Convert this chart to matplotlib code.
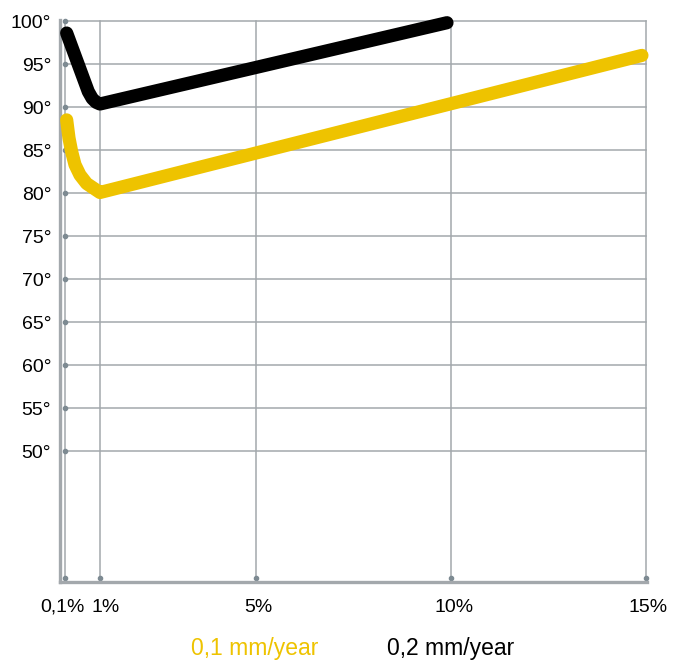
import matplotlib
matplotlib.use("Agg")
import matplotlib.pyplot as plt
from matplotlib.transforms import ScaledTranslation

plt.rcParams['font.family'] = ['Liberation Sans', 'DejaVu Sans']

# ---- data ----
x_ticks = [0.1, 1, 5, 10, 15]
x_labels = ["0,1%", "1%", "5%", "10%", "15%"]
y_ticks = [50, 55, 60, 65, 70, 75, 80, 85, 90, 95, 100]
y_labels = ["50°", "55°", "60°", "65°", "70°", "75°", "80°", "85°", "90°", "95°", "100°"]

series_01_x = [0.146, 0.205, 0.274, 0.359, 0.487, 0.659, 0.872, 1.0, 14.9]
series_01_y = [88.5, 86.4, 84.8, 83.3, 82.1, 81.1, 80.45, 80.06, 96.0]
series_02_x = [0.146, 0.70, 0.80, 0.90, 1.0, 9.9]
series_02_y = [98.6, 91.8, 91.0, 90.55, 90.35, 99.8]
legend_labels = ["0,1 mm/year", "0,2 mm/year"]

YELLOW = "#EEC300"
BLACK = "#000000"
GRID = "#A3A8AC"
DOT = "#7D8A92"

fig = plt.figure(figsize=(6.87, 6.64), dpi=100)
W, H = 687, 664
ax = fig.add_axes([59.5 / W, (H - 582) / H, (647 - 59.5) / W, (582 - 21) / H])
ax.set_xlim(-0.038, 15.03)
ax.set_ylim(34.77, 100)

for s in ["top", "right"]:
    ax.spines[s].set_visible(False)
for s in ["left", "bottom"]:
    ax.spines[s].set_color(GRID)
    ax.spines[s].set_linewidth(2.4)
ax.spines["left"].set_bounds(34.77, 100.1)

ybot = 35.23
# grid lines
for yv in y_ticks:
    ax.plot([0.1, 15], [yv, yv], color=GRID, lw=1.1, zorder=1, clip_on=False)
for xv in x_ticks:
    ax.plot([xv, xv], [34.77, 100], color=GRID, lw=1.1, zorder=1, clip_on=False)
# dots
ax.scatter([0.1] * len(y_ticks), y_ticks, s=9, color=DOT, zorder=2, clip_on=False)
ax.scatter(x_ticks, [ybot] * len(x_ticks), s=9, color=DOT, zorder=2, clip_on=False)

ax.plot(series_01_x, series_01_y, color=YELLOW, lw=9.5, solid_capstyle="round",
        solid_joinstyle="round", zorder=3, clip_on=False)
ax.plot(series_02_x, series_02_y, color=BLACK, lw=9.5, solid_capstyle="round",
        solid_joinstyle="round", zorder=4, clip_on=False)

ax.set_xticks(x_ticks, x_labels)
ax.set_yticks(y_ticks, y_labels)
ax.tick_params(axis="both", length=0, labelsize=14, colors="black")
ax.tick_params(axis="x", pad=12)
ax.tick_params(axis="y", pad=6)
offs = [-2, 6, 2, 3, 2]
for lab, o in zip(ax.get_xticklabels(), offs):
    lab.set_transform(lab.get_transform() + ScaledTranslation(o / 100, 0, fig.dpi_scale_trans))

fig.text(255 / W, 1 - 649 / H, legend_labels[0], color=YELLOW, fontsize=16.5, ha="center", va="center")
fig.text(451 / W, 1 - 649 / H, legend_labels[1], color=BLACK, fontsize=16.5, ha="center", va="center")

fig.savefig("out.png", dpi=100)
